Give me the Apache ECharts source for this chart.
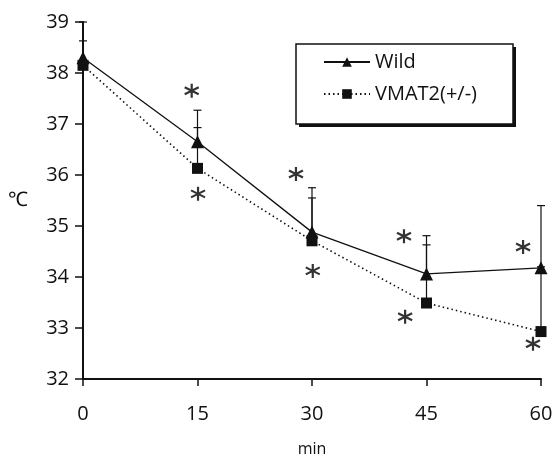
<!DOCTYPE html>
<html>
<head>
<meta charset="utf-8">
<script src="https://cdn.jsdelivr.net/npm/echarts@6/dist/echarts.min.js"></script>
<style>
html,body{margin:0;padding:0;background:#fff;}
#main{width:558px;height:458px;}
</style>
</head>
<body>
<div id="main"></div>
<script>
var minutes = [0, 15, 30, 45, 60];
var wild = [38.3, 36.65, 34.88, 34.06, 34.18];
var wildTop = [39.0, 37.27, 35.75, 34.81, 35.40];
var vmat = [38.15, 36.13, 34.71, 33.49, 32.93];
var vmatTop = [38.63, 36.93, 35.55, 34.63, 34.2];
// asterisks (x in min, y in degC)
var starX = [14.24, 15.07, 27.9, 30.1, 42.05, 42.2, 57.65, 58.95];
var starY = [37.65, 35.63, 36.02, 34.12, 34.80, 33.22, 34.59, 32.69];

var ink = '#111';
var font = 'Open Sans';

function pairs(xs, ys){
	var out = [];
	for (var i = 0; i < xs.length; i++) out.push([xs[i], ys[i]]);
	return out;
}
function errData(vals, tops){
	var out = [];
	for (var i = 0; i < minutes.length; i++) out.push([minutes[i], vals[i], tops[i]]);
	return out;
}
function errRender(params, api){
	var p0 = api.coord([api.value(0), api.value(1)]);
	var p1 = api.coord([api.value(0), api.value(2)]);
	var st = {stroke: ink, lineWidth: 1.2};
	return {
		type: 'group',
		children: [
			{type: 'line', shape: {x1: p0[0], y1: p0[1], x2: p1[0], y2: p1[1]}, style: st},
			{type: 'line', shape: {x1: p1[0] - 4, y1: p1[1], x2: p1[0] + 4, y2: p1[1]}, style: st}
		]
	};
}

var star = 'path://M0,-10L0,10M-8.66,-5L8.66,5M-8.66,5L8.66,-5';

var option = {
	backgroundColor: '#fff',
	animation: false,
	grid: {left: 83, right: 17, top: 22, bottom: 79, outerBoundsMode: 'none', containLabel: false},
	xAxis: {
		type: 'value', min: 0, max: 60, interval: 15,
		name: 'min', nameLocation: 'middle', nameGap: 62,
		nameTextStyle: {fontFamily: font, fontSize: 16, color: ink},
		axisLine: {lineStyle: {color: ink, width: 2}},
		axisTick: {show: true, length: 7, lineStyle: {color: ink, width: 1.5}},
		axisLabel: {fontFamily: font, fontSize: 20, color: ink, margin: 25},
		splitLine: {show: false}
	},
	yAxis: {
		type: 'value', min: 32, max: 39, interval: 1,
		name: '℃', nameLocation: 'middle', nameGap: 55, nameRotate: 0,
		nameTextStyle: {fontFamily: font, fontSize: 20, color: ink},
		axisLine: {show: true, lineStyle: {color: ink, width: 2}},
		axisTick: {show: true, length: 8, lineStyle: {color: ink, width: 1.5}},
		axisLabel: {fontFamily: font, fontSize: 20, color: ink, margin: 14},
		splitLine: {show: false}
	},
	legend: {
		orient: 'vertical', left: 318, top: 47, z: 10,
		itemWidth: 46, itemHeight: 12, itemGap: 12,
		textStyle: {fontFamily: font, fontSize: 20, color: ink, lineHeight: 20},
		data: ['Wild', 'VMAT2(+/-)']
	},
	graphic: [
		{type: 'rect', z: 1, shape: {x: 299, y: 47, width: 217, height: 80}, style: {fill: ink}},
		{type: 'rect', z: 2, shape: {x: 296, y: 44, width: 217, height: 80}, style: {fill: '#fff', stroke: ink, lineWidth: 1.5}}
	],
	series: [
		{type: 'custom', name: 'errWild', renderItem: errRender, data: errData(wild, wildTop), z: 1, silent: true},
		{type: 'custom', name: 'errVmat', renderItem: errRender, data: errData(vmat, vmatTop), z: 1, silent: true},
		{
			name: 'Wild', type: 'line', data: pairs(minutes, wild), z: 3,
			symbol: 'triangle', symbolSize: 13,
			lineStyle: {color: ink, width: 1.3, type: 'solid'},
			itemStyle: {color: ink}
		},
		{
			name: 'VMAT2(+/-)', type: 'line', data: pairs(minutes, vmat), z: 3,
			symbol: 'rect', symbolSize: 11,
			lineStyle: {color: ink, width: 1.6, type: [1.5, 3]},
			itemStyle: {color: ink}
		},
		{
			type: 'scatter', name: 'sig', data: pairs(starX, starY), z: 4,
			symbol: star, symbolSize: 14,
			itemStyle: {color: 'none', borderColor: '#000', borderWidth: 2.2}
		}
	]
};

var myChart = echarts.init(document.getElementById('main'));
myChart.setOption(option);
</script>
</body>
</html>
